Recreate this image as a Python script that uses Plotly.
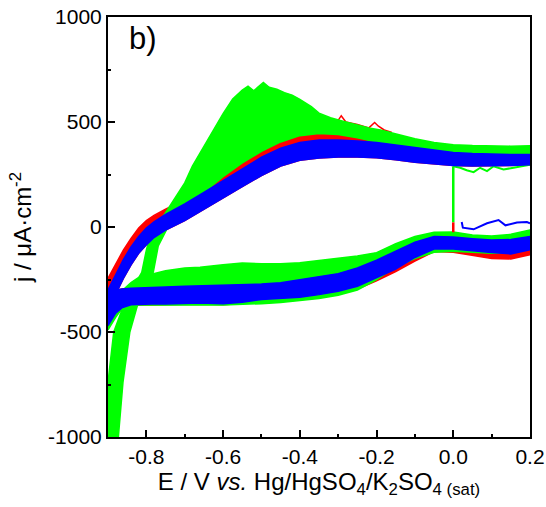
import plotly.graph_objects as go

# ---------------- data (E in V, j in uA/cm2) ----------------
# anodic (forward) branch grid
E_an = [-0.90, -0.88, -0.86, -0.84, -0.82, -0.80, -0.78, -0.75, -0.70, -0.65, -0.60, -0.55,
        -0.50, -0.45, -0.40, -0.35, -0.30, -0.25, -0.20, -0.15, -0.10, -0.05, 0.00, 0.05,
        0.10, 0.15, 0.20]
blue_an_top = [-300, -225, -155, -95, -45, -5, 25, 60, 110, 165, 222, 278,
               332, 375, 402, 414, 414, 410, 402, 390, 378, 366, 355, 350,
               346, 345, 345]
blue_an_bot = [-400, -320, -245, -180, -125, -85, -50, -15, 30, 82, 138, 192,
               245, 290, 318, 328, 333, 333, 330, 320, 308, 300, 293, 290,
               290, 293, 297]
red_an_top = [-245, -175, -110, -55, -5, 30, 55, 85, 130, 182, 245, 308,
              362, 408, 438, 448, 446, 440, 432, 418, 405, 392, 380, 372,
              370, 370, 372]

# green anodic envelope (outline: left/top edge, then back along the lower edge)
green_an_E = [-0.900, -0.900, -0.885, -0.856, -0.812, -0.800,
              -0.790, -0.776, -0.760, -0.730, -0.700, -0.680, -0.650, -0.620, -0.600, -0.575,
              -0.550, -0.535, -0.520, -0.510, -0.495, -0.480, -0.460, -0.440, -0.420, -0.400,
              -0.370, -0.350, -0.320, -0.290, -0.250, -0.220, -0.190, -0.150, -0.100, -0.050,
              0.000, 0.050, 0.100, 0.150, 0.200,
              0.200, 0.150, 0.100, 0.050, 0.000, -0.050, -0.100, -0.150, -0.200, -0.250,
              -0.300, -0.350, -0.400, -0.450, -0.500, -0.550, -0.600, -0.650, -0.700, -0.720,
              -0.747, -0.769, -0.782, -0.821, -0.843, -0.861, -0.873]
green_an_j = [-1000, -740, -500, -358, -216, -110,
              -40, 10, 40, 125, 210, 290, 385, 475, 540, 610,
              652, 670, 648, 665, 688, 665, 656, 640, 628, 608,
              573, 542, 520, 505, 485, 472, 462, 442, 420, 402,
              392, 388, 385, 385, 387,
              345, 345, 346, 350, 355, 365, 378, 390, 405, 425,
              440, 445, 435, 405, 360, 305, 240, 165, 100, 60,
              -11, -90, -216, -358, -500, -740, -1000]

# cathodic (reverse) branch grid
E_cat = [-0.900, -0.880, -0.864, -0.840, -0.820, -0.786, -0.750, -0.700, -0.660, -0.600,
         -0.550, -0.500, -0.450, -0.400, -0.350, -0.300, -0.250, -0.200, -0.150, -0.100,
         -0.050, 0.000, 0.050, 0.100, 0.150, 0.200]
green_cat_top = [-420, -350, -305, -265, -240, -224, -208, -195, -192, -180,
                 -172, -175, -175, -170, -160, -150, -138, -122, -80, -45,
                 -25, -24, -38, -43, -35, -14]
green_cat_bot = [-490, -430, -390, -372, -372, -372, -372, -372, -372, -372,
                 -370, -365, -360, -350, -340, -325, -300, -250, -190, -150,
                 -120, -115, -120, -125, -120, -100]
blue_cat_top = [-310, -300, -295, -292, -290, -288, -286, -282, -280, -276,
                -273, -272, -265, -250, -238, -222, -195, -158, -115, -72,
                -45, -48, -56, -62, -60, -45]
blue_cat_bot = [-470, -410, -385, -370, -367, -367, -367, -365, -362, -365,
                -358, -345, -340, -334, -322, -306, -282, -240, -200, -145,
                -105, -105, -112, -122, -128, -108]
red_cat_bot = [-480, -418, -392, -375, -372, -372, -372, -370, -368, -370,
               -364, -352, -348, -342, -332, -318, -296, -256, -212, -162,
               -117, -120, -136, -150, -152, -132]

# single traces
green_dip_E = [0.000, 0.018, 0.035, 0.053, 0.070, 0.088, 0.105, 0.131, 0.157, 0.183, 0.200]
green_dip_j = [289, 282, 270, 261, 282, 266, 289, 274, 282, 289, 297]
green_drop_E = [0.000, 0.000]
green_drop_j = [289, 22]
red_drop_E = [0.000, 0.000]
red_drop_j = [22, -25]
blue_part_E = [0.022, 0.025, 0.053, 0.088, 0.118, 0.136, 0.166, 0.192, 0.200]
blue_part_j = [24, -3, -11, 18, 33, 8, 21, 24, 18]
red_spike_E = [-0.310, -0.300, -0.292, -0.280, -0.250, -0.220, -0.205, -0.195, -0.180, -0.160]
red_spike_j = [480, 505, 530, 500, 488, 472, 498, 480, 462, 450]

x_ticks = [-0.8, -0.6, -0.4, -0.2, 0.0, 0.2]
x_labels = ["-0.8", "-0.6", "-0.4", "-0.2", "0.0", "0.2"]
x_minor = [-0.9, -0.7, -0.5, -0.3, -0.1, 0.1]
y_ticks = [-1000, -500, 0, 500, 1000]
y_labels = ["-1000", "-500", "0", "500", "1000"]
y_minor = [-750, -250, 250, 750]

RED, GREEN, BLUE = "#ff0000", "#00ff00", "#0000ff"

fig = go.Figure()


def band(E, top, bot, color):
    fig.add_trace(go.Scatter(
        x=list(E) + list(E)[::-1], y=list(top) + list(bot)[::-1],
        mode="lines", fill="toself", fillcolor=color,
        line=dict(color=color, width=1.5), hoverinfo="skip"))


def outline(E, j, color):
    fig.add_trace(go.Scatter(x=E, y=j, mode="lines", fill="toself", fillcolor=color,
                             line=dict(color=color, width=1.5), hoverinfo="skip"))


def line(E, j, color, w=2):
    fig.add_trace(go.Scatter(x=E, y=j, mode="lines", line=dict(color=color, width=w),
                             hoverinfo="skip"))


# red cycles (back)
band(E_an, red_an_top, blue_an_bot, RED)
band(E_cat, blue_cat_top, red_cat_bot, RED)
line(red_spike_E, red_spike_j, RED, 1.5)
# green cycles
outline(green_an_E, green_an_j, GREEN)
band(E_cat, green_cat_top, green_cat_bot, GREEN)
line(green_dip_E, green_dip_j, GREEN, 2)
line(green_drop_E, green_drop_j, GREEN, 2.5)
line(red_drop_E, red_drop_j, RED, 2.5)
# blue cycles (front)
band(E_cat, blue_cat_top, blue_cat_bot, BLUE)
band(E_an, blue_an_top, blue_an_bot, BLUE)
line(blue_part_E, blue_part_j, BLUE, 2)

axis_common = dict(showline=True, linewidth=2, linecolor="black", mirror=True,
                   ticks="inside", ticklen=7, tickwidth=2, tickcolor="black",
                   showgrid=False, zeroline=False, automargin=False,
                   ticklabeloverflow="allow",
                   tickfont=dict(family="Liberation Sans, Arial", size=21, color="black"))

fig.update_layout(
    width=546, height=507,
    margin=dict(l=108, r=16, t=17, b=70),
    plot_bgcolor="white", paper_bgcolor="white",
    showlegend=False,
    font=dict(family="Liberation Sans, Arial", color="black"),
    xaxis=dict(range=[-0.9, 0.2], tickvals=x_ticks, ticktext=x_labels,
               minor=dict(tickvals=x_minor, ticks="inside", ticklen=3, tickwidth=2,
                          tickcolor="black"),
               title=dict(text="E / V <i>vs.</i> Hg/HgSO<sub>4</sub>/K<sub>2</sub>SO<sub>4 (sat)</sub>",
                          font=dict(size=24), standoff=2),
               **axis_common),
    yaxis=dict(range=[-1000, 1000], tickvals=y_ticks, ticktext=y_labels,
               minor=dict(tickvals=y_minor, ticks="inside", ticklen=3, tickwidth=2,
                          tickcolor="black"),
               title=dict(text="j / \u03bcA\u00b7cm<sup>-2</sup>", font=dict(size=24), standoff=10),
               **axis_common),
    annotations=[dict(text="b)", x=0.045, y=0.995, xref="paper", yref="paper",
                      xanchor="left", yanchor="top", showarrow=False,
                      font=dict(size=31, family="Liberation Sans, Arial", color="black"))],
)

# remove the default page margin so the figure fills the window exactly
fig.write_html("out.html",
               config={"displayModeBar": False},
               post_script="document.body.style.margin='0px';document.body.style.overflow='hidden';")
